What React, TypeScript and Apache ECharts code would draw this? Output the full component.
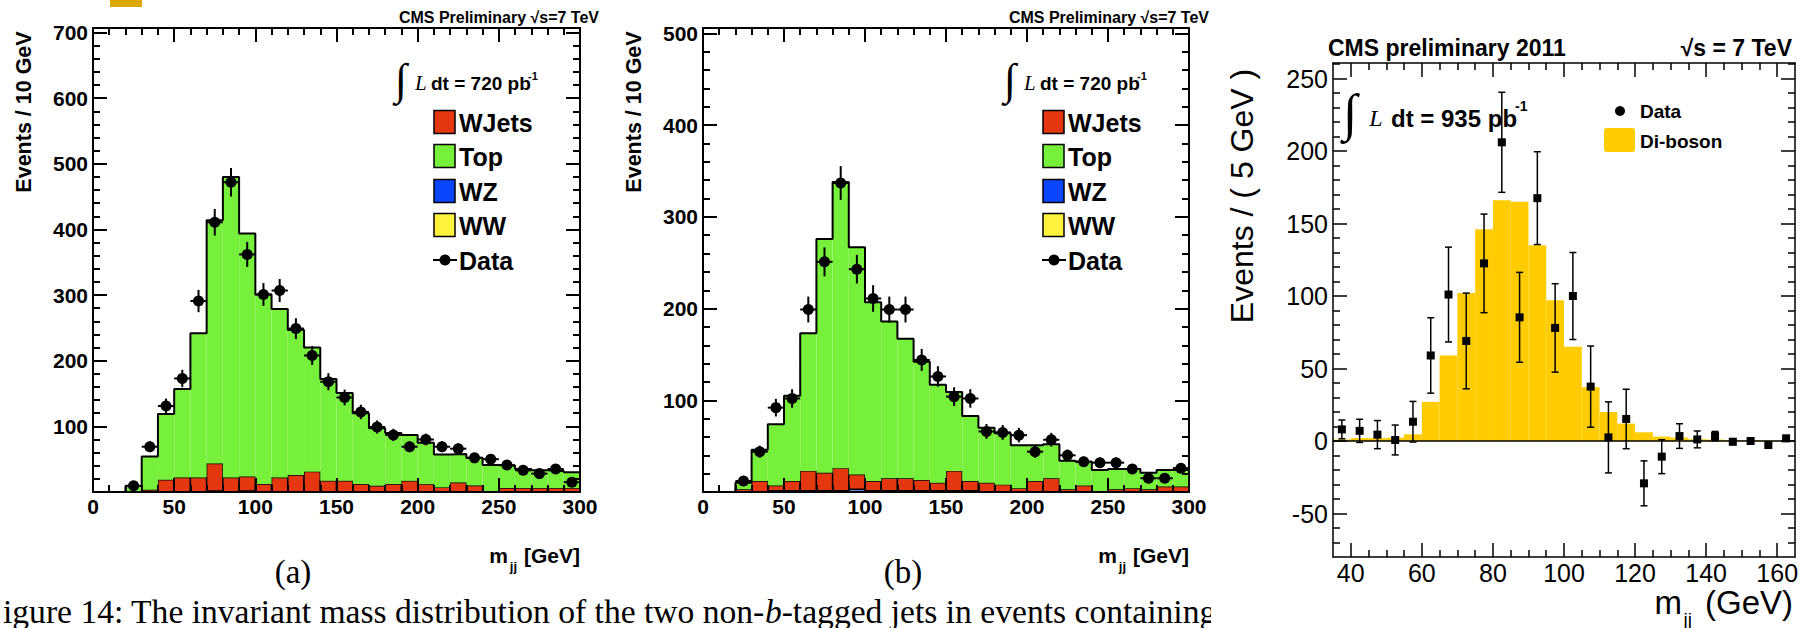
import React, { useEffect, useRef } from "react";
import * as echarts from "echarts";

// ---------------- Panels (a) and (b): 10 GeV bins ----------------
const binEdgesAB = [0, 10, 20, 30, 40, 50, 60, 70, 80, 90, 100, 110, 120, 130, 140, 150, 160, 170, 180, 190, 200, 210, 220, 230, 240, 250, 260, 270, 280, 290, 300];

const wwA = [0, 0, 0, 0, 0, 0, 0, 1.5, 0, 1.5, 0, 0, 0, 0, 0, 0, 0, 0, 0, 0, 0, 0, 0, 0, 0, 0, 0, 0, 0, 0];
const wzA = [0, 0, 0, 0, 0, 0, 0, 0, 0, 0, 0, 0, 0, 0, 0, 0, 0, 0, 0, 0, 0, 0, 0, 0, 0, 0, 0, 0, 0, 0];
const wjetsA = [0, 0, 1, 3.5, 18.5, 22, 22, 42, 22, 22, 12, 22, 26, 31, 17, 17, 12, 9.5, 12, 17, 12, 7, 14.5, 10, 0, 6, 6, 6, 6, 6];
const topA = [0, 0, 8, 50.5, 100.5, 135, 220, 370.5, 458, 370.5, 289, 257, 221, 189, 155, 134, 108, 87.5, 78, 70, 63, 50, 43.5, 42, 41, 34, 29, 27, 26, 24];

const dataCentersAB = [25, 35, 45, 55, 65, 75, 85, 95, 105, 115, 125, 135, 145, 155, 165, 175, 185, 195, 205, 215, 225, 235, 245, 255, 265, 275, 285, 295];
const dataA = [9.5, 69, 131, 173, 291, 411, 472, 362, 301, 307, 249, 208, 168, 144, 122, 99, 87, 69, 80, 69, 66, 52, 50, 41, 33, 28, 35, 15];
const errA = [3, 8.3, 11.4, 13.2, 17, 20.3, 21.7, 19, 17.3, 17.5, 15.8, 14.4, 13, 12, 11, 10, 9.3, 8.3, 8.9, 8.3, 8.1, 7.2, 7.1, 6.4, 5.7, 5.3, 5.9, 3.9];

const wwB = [0, 0, 0, 0, 1.5, 1.5, 1.5, 1.5, 1.5, 1.5, 1.5, 1.5, 1.5, 1.5, 1.5, 1.5, 1.5, 0, 0, 0, 0, 0, 0, 0, 0, 0, 0, 0, 0, 0];
const wzB = [0, 0, 0, 0, 0, 0, 0, 0, 0, 1.5, 0, 0, 0, 0, 0, 0, 0, 0, 0, 0, 0, 0, 0, 0, 0, 0, 0, 0, 0, 0];
const wjetsB = [0, 0, 3, 12, 5.5, 10.5, 21.5, 19.5, 24.5, 16, 10.5, 13.5, 13.5, 11.5, 8.5, 21.5, 10.5, 10, 8, 4, 12, 15, 3, 7, 0, 3, 4, 3, 6, 6];
const topB = [0, 0, 7, 34, 67, 93, 150, 255, 312, 248, 195, 171, 152, 129, 107, 86, 71, 60, 56, 47, 39, 37, 31, 26, 24, 22, 21, 18, 18, 18];

const dataB = [12, 44, 92, 102, 199, 251, 337, 243, 211, 199, 199, 144, 126, 104, 102, 66, 65, 62, 44, 57, 40, 33, 32, 32, 25, 15, 15, 26];
const errB = [3.5, 6.6, 9.6, 10.1, 14.1, 15.8, 18.4, 15.6, 14.5, 14.1, 14.1, 12, 11.2, 10.2, 10.1, 8.1, 8.1, 7.9, 6.6, 7.5, 6.3, 5.7, 5.7, 5.7, 5, 3.9, 3.9, 5.1];
const dataHalfWidthAB = 5;

// ---------------- Panel (c): 5 GeV bins ----------------
const binEdgesC = [35, 40, 45, 50, 55, 60, 65, 70, 75, 80, 85, 90, 95, 100, 105, 110, 115, 120, 125, 130, 135, 140, 145, 150, 155, 160, 165];
const dibosonC = [1, 2, 2, 2.3, 4.6, 27, 59, 102, 146, 166, 165, 135, 97, 65, 37, 20, 12, 6, 3, 2.3, 1.2, 1, 0.5, 0.5, 0.3, 0.3];
const dataCentersC = [37.5, 42.5, 47.5, 52.5, 57.5, 62.5, 67.5, 72.5, 77.5, 82.5, 87.5, 92.5, 97.5, 102.5, 107.5, 112.5, 117.5, 122.5, 127.5, 132.5, 137.5, 142.5, 147.5, 152.5, 157.5, 162.5];
const dataC = [8, 7, 4.4, 0.7, 13.3, 59, 101, 69, 122.5, 206, 85.3, 167.5, 78, 100, 37.5, 2.5, 15.2, -29.2, -10.8, 3.4, 1.1, 3.4, -0.5, 0, -2.8, 1.8];
const errC = [6.5, 8, 9.7, 10.3, 14, 26, 32.7, 33, 34, 34.5, 31, 32, 30.5, 30, 28, 24.5, 20.5, 15.5, 11.7, 8.5, 5.8, 3.2, 2, 1.5, 1.5, 2];

// ---------------- Tick labels ----------------
const xTicksAB = [0, 50, 100, 150, 200, 250, 300];
const yTicksA = [100, 200, 300, 400, 500, 600, 700];
const yTicksB = [100, 200, 300, 400, 500];
const xTicksC = [40, 60, 80, 100, 120, 140, 160];
const yTicksC = [-50, 0, 50, 100, 150, 200, 250];

const SANS = "'Liberation Sans', Arial, Helvetica, sans-serif";
const SERIF = "'Liberation Serif', 'Times New Roman', serif";

const C_WJETS = "#E5370F";
const C_TOP = "#76F03A";
const C_WZ = "#0A46FF";
const C_WW = "#FFF23C";
const C_DIBOSON = "#FFCC00";

function range(a: number, b: number, step: number) {
  const r: number[] = [];
  for (let v = a; v <= b + 1e-9; v += step) r.push(Math.round(v * 1000) / 1000);
  return r;
}

function axesFor(
  gridIndex: number,
  dim: "x" | "y",
  min: number,
  max: number,
  majors: number[],
  minorStep: number,
  labelValues: number[],
  labelStyle: any,
  frameW: number,
  tickW: number,
  majLen: number,
  minLen: number
) {
  const positions = dim === "x" ? ["bottom", "top"] : ["left", "right"];
  const minors = range(Math.ceil(min / minorStep) * minorStep, max, minorStep).filter(
    (v) => majors.indexOf(v) < 0 && v > min && v < max
  );
  const list: any[] = [];
  positions.forEach((p, pi) => {
    list.push({
      type: "value",
      gridIndex,
      position: p,
      min,
      max,
      z: 10,
      axisLine: { show: true, onZero: false, lineStyle: { color: "#000", width: frameW } },
      axisTick: { show: true, inside: true, length: majLen, customValues: majors, lineStyle: { color: "#000", width: tickW } },
      axisLabel: pi === 0 ? { show: true, customValues: labelValues, ...labelStyle } : { show: false },
      splitLine: { show: false },
      minorTick: { show: false },
      axisPointer: { show: false },
    });
    list.push({
      type: "value",
      gridIndex,
      position: p,
      min,
      max,
      z: 10,
      axisLine: { show: false, onZero: false },
      axisTick: { show: true, inside: true, length: minLen, customValues: minors, lineStyle: { color: "#000", width: tickW } },
      axisLabel: { show: false },
      splitLine: { show: false },
      axisPointer: { show: false },
    });
  });
  return list;
}

function stackSeries(edges: number[], comps: { name: string; values: number[]; color: string; stroke?: boolean }[], axisIndex: number) {
  const base = edges.slice(0, -1).map(() => 0);
  const series: any[] = [];
  comps.forEach((c) => {
    const data = c.values.map((v, i) => {
      const d = [edges[i], edges[i + 1], base[i], base[i] + v];
      base[i] += v;
      return d;
    });
    series.push({
      type: "custom",
      name: c.name,
      xAxisIndex: axisIndex,
      yAxisIndex: axisIndex,
      encode: { x: [0, 1], y: [2, 3] },
      data,
      z: 2,
      renderItem: (_p: any, api: any) => {
        if (api.value(3) === api.value(2)) return null;
        const a = api.coord([api.value(0), api.value(3)]);
        const b = api.coord([api.value(1), api.value(2)]);
        return {
          type: "rect",
          shape: { x: a[0], y: a[1], width: b[0] - a[0], height: b[1] - a[1] },
          style: { fill: c.color, stroke: c.stroke ? "#000" : null, lineWidth: c.stroke ? 1.4 : 0 },
        };
      },
    });
  });
  return { series, total: base };
}

function outlineSeries(edges: number[], total: number[], axisIndex: number) {
  const pts = total.map((t, i) => [edges[i], t]);
  pts.push([edges[edges.length - 1], total[total.length - 1]]);
  return {
    type: "line",
    step: "end",
    xAxisIndex: axisIndex,
    yAxisIndex: axisIndex,
    data: pts,
    symbol: "none",
    lineStyle: { color: "#000", width: 2 },
    z: 3,
  };
}

function dataSeriesAB(values: number[], errs: number[], axisIndex: number) {
  return {
    type: "custom",
    name: "Data",
    xAxisIndex: axisIndex,
    yAxisIndex: axisIndex,
    encode: { x: 0, y: 1 },
    data: dataCentersAB.map((x, i) => [x, values[i], errs[i]]),
    z: 5,
    renderItem: (_p: any, api: any) => {
      const x = api.value(0);
      const y = api.value(1);
      const e = api.value(2);
      const c = api.coord([x, y]);
      const t = api.coord([x, y + e]);
      const b = api.coord([x, y - e]);
      const l = api.coord([x - dataHalfWidthAB, y]);
      const r = api.coord([x + dataHalfWidthAB, y]);
      return {
        type: "group",
        children: [
          { type: "line", shape: { x1: t[0], y1: t[1], x2: b[0], y2: b[1] }, style: { stroke: "#000", lineWidth: 2 } },
          { type: "line", shape: { x1: l[0], y1: l[1], x2: r[0], y2: r[1] }, style: { stroke: "#000", lineWidth: 2 } },
          { type: "circle", shape: { cx: c[0], cy: c[1], r: 5.5 }, style: { fill: "#000" } },
        ],
      };
    },
  };
}

function dataSeriesC(axisIndex: number) {
  return {
    type: "custom",
    name: "Data",
    xAxisIndex: axisIndex,
    yAxisIndex: axisIndex,
    encode: { x: 0, y: 1 },
    data: dataCentersC.map((x, i) => [x, dataC[i], errC[i]]),
    z: 5,
    renderItem: (_p: any, api: any) => {
      const x = api.value(0);
      const y = api.value(1);
      const e = api.value(2);
      const c = api.coord([x, y]);
      const t = api.coord([x, y + e]);
      const b = api.coord([x, y - e]);
      return {
        type: "group",
        children: [
          { type: "line", shape: { x1: t[0], y1: t[1], x2: b[0], y2: b[1] }, style: { stroke: "#000", lineWidth: 1.5 } },
          { type: "line", shape: { x1: t[0] - 3.5, y1: t[1], x2: t[0] + 3.5, y2: t[1] }, style: { stroke: "#000", lineWidth: 1.5 } },
          { type: "line", shape: { x1: b[0] - 3.5, y1: b[1], x2: b[0] + 3.5, y2: b[1] }, style: { stroke: "#000", lineWidth: 1.5 } },
          { type: "rect", shape: { x: c[0] - 4, y: c[1] - 4, width: 8, height: 8 }, style: { fill: "#000" } },
        ],
      };
    },
  };
}

function txt(x: number, y: number, text: string, size: number, opts: any = {}) {
  return {
    type: "text",
    x,
    y,
    rotation: opts.rotation || 0,
    z: opts.z || 20,
    style: {
      text,
      fontSize: size,
      fontFamily: opts.family || SANS,
      fontWeight: opts.weight || "normal",
      fontStyle: opts.style || "normal",
      fill: opts.color || "#000",
      align: opts.align || "left",
      verticalAlign: opts.valign || "middle",
      rich: opts.rich,
    },
  };
}

function legendAB(dx: number) {
  const els: any[] = [];
  els.push(txt(401 + dx, 79, "∫", 44, { family: SERIF, align: "center" }));
  els.push(txt(415 + dx, 83, "L", 21, { family: SERIF, style: "italic" }));
  els.push(txt(431 + dx, 83, "dt = 720 pb", 19, { weight: "bold" }));
  els.push(txt(528 + dx, 76, "-1", 11, { weight: "bold" }));
  const rows = [
    { name: "WJets", color: C_WJETS, y: 122 },
    { name: "Top", color: C_TOP, y: 156 },
    { name: "WZ", color: C_WZ, y: 191 },
    { name: "WW", color: C_WW, y: 225 },
  ];
  rows.forEach((r) => {
    els.push({
      type: "rect",
      z: 20,
      shape: { x: 434 + dx, y: r.y - 11.5, width: 21, height: 23 },
      style: { fill: r.color, stroke: "#000", lineWidth: 1.5 },
    });
    els.push(txt(459 + dx, r.y + 1, r.name, 25, { weight: "bold" }));
  });
  els.push({ type: "line", z: 20, shape: { x1: 433 + dx, y1: 260, x2: 457 + dx, y2: 260 }, style: { stroke: "#000", lineWidth: 2 } });
  els.push({ type: "circle", z: 20, shape: { cx: 445 + dx, cy: 260, r: 5.5 }, style: { fill: "#000" } });
  els.push(txt(459 + dx, 261, "Data", 25, { weight: "bold" }));
  return els;
}

function buildOption() {
  const gridA = { left: 93, top: 28, width: 487, height: 464 };
  const gridB = { left: 703, top: 28, width: 486, height: 464 };
  const gridC = { left: 1333, top: 63, width: 462, height: 494 };

  const abX = { fontSize: 21, fontWeight: "bold", fontFamily: SANS, color: "#000", margin: 4 };
  const abY = { fontSize: 21, fontWeight: "bold", fontFamily: SANS, color: "#000", margin: 5 };
  const cX = { fontSize: 25, fontFamily: SANS, color: "#000", margin: 3 };
  const cY = { fontSize: 25, fontFamily: SANS, color: "#000", margin: 5 };

  const xAxis = [
    ...axesFor(0, "x", 0, 300, xTicksAB, 10, xTicksAB, abX, 2, 2, 14, 7),
    ...axesFor(1, "x", 0, 300, xTicksAB, 10, xTicksAB, abX, 2, 2, 14, 7),
    ...axesFor(2, "x", 35, 165, xTicksC, 5, xTicksC, cX, 1.5, 1.5, 14, 7),
  ];
  const yAxis = [
    ...axesFor(0, "y", 0, 707, yTicksA, 20, yTicksA, abY, 2, 2, 14, 7),
    ...axesFor(1, "y", 0, 506, yTicksB, 20, yTicksB, abY, 2, 2, 14, 7),
    ...axesFor(2, "y", -80, 260.7, yTicksC, 10, yTicksC, cY, 1.5, 1.5, 14, 7),
  ];

  const stA = stackSeries(
    binEdgesAB,
    [
      { name: "WW", values: wwA, color: C_WW },
      { name: "WZ", values: wzA, color: C_WZ },
      { name: "WJets", values: wjetsA, color: C_WJETS, stroke: true },
      { name: "Top", values: topA, color: C_TOP },
    ],
    0
  );
  const stB = stackSeries(
    binEdgesAB,
    [
      { name: "WW", values: wwB, color: C_WW },
      { name: "WZ", values: wzB, color: C_WZ },
      { name: "WJets", values: wjetsB, color: C_WJETS, stroke: true },
      { name: "Top", values: topB, color: C_TOP },
    ],
    4
  );
  const stC = stackSeries(binEdgesC, [{ name: "Di-boson", values: dibosonC, color: C_DIBOSON }], 8);

  const series: any[] = [
    ...stA.series,
    outlineSeries(binEdgesAB, stA.total, 0),
    dataSeriesAB(dataA, errA, 0),
    ...stB.series,
    outlineSeries(binEdgesAB, stB.total, 4),
    dataSeriesAB(dataB, errB, 4),
    ...stC.series,
    {
      type: "line",
      xAxisIndex: 8,
      yAxisIndex: 8,
      data: [
        [binEdgesC[0], 0],
        [binEdgesC[binEdgesC.length - 1], 0],
      ],
      symbol: "none",
      lineStyle: { color: "#000", width: 1.5 },
      z: 4,
    },
    dataSeriesC(8),
  ];

  const graphic: any[] = [
    { type: "rect", z: 20, shape: { x: 110, y: 0, width: 32, height: 7 }, style: { fill: "#DBA700" } },
    // panel (a)
    txt(599, 17, "CMS Preliminary √s=7 TeV", 16, { weight: "bold", align: "right" }),
    txt(24, 112, "Events / 10 GeV", 21.5, { weight: "bold", align: "center", rotation: Math.PI / 2 }),
    txt(580, 555, "[GeV]", 21, { weight: "bold", align: "right" }),
    txt(517, 566, "jj", 13, { weight: "bold", align: "right" }),
    txt(508, 555, "m", 21, { weight: "bold", align: "right" }),
    ...legendAB(0),
    txt(293, 572, "(a)", 33, { family: SERIF, align: "center" }),
    // panel (b)
    txt(1209, 17, "CMS Preliminary √s=7 TeV", 16, { weight: "bold", align: "right" }),
    txt(634, 112, "Events / 10 GeV", 21.5, { weight: "bold", align: "center", rotation: Math.PI / 2 }),
    txt(1189, 555, "[GeV]", 21, { weight: "bold", align: "right" }),
    txt(1126, 566, "jj", 13, { weight: "bold", align: "right" }),
    txt(1117, 555, "m", 21, { weight: "bold", align: "right" }),
    ...legendAB(609),
    txt(903, 572, "(b)", 33, { family: SERIF, align: "center" }),
    // caption
    txt(3, 611, "igure 14: The invariant mass distribution of the two non-{i|b}-tagged jets in events containing", 33.6, {
      family: SERIF,
      z: 15,
      rich: { i: { fontStyle: "italic", fontFamily: SERIF, fontSize: 33.6 } },
    }),
    { type: "rect", z: 16, shape: { x: 1211, y: 590, width: 436, height: 38 }, style: { fill: "#fff" } },
    // panel (c)
    txt(1328, 48, "CMS preliminary 2011", 23, { weight: "bold" }),
    txt(1792, 48, "√s = 7 TeV", 23, { weight: "bold", align: "right" }),
    txt(1242, 196, "Events / ( 5 GeV )", 32, { align: "center", rotation: Math.PI / 2 }),
    txt(1350, 112, "∫", 52, { family: SERIF, align: "center" }),
    txt(1376, 118, "L", 24, { family: SERIF, style: "italic", align: "center" }),
    txt(1391, 118, "dt = 935 pb", 24, { weight: "bold" }),
    txt(1515, 106, "-1", 14, { weight: "bold" }),
    { type: "circle", z: 20, shape: { cx: 1620, cy: 111, r: 5 }, style: { fill: "#000" } },
    txt(1640, 111, "Data", 19, { weight: "bold" }),
    { type: "rect", z: 20, shape: { x: 1604, y: 128, width: 31, height: 24, r: 3 }, style: { fill: C_DIBOSON } },
    txt(1640, 141, "Di-boson", 19, { weight: "bold" }),
    txt(1793, 602, "(GeV)", 33, { align: "right" }),
    txt(1692, 619, "jj", 19, { align: "right" }),
    txt(1682, 602, "m", 33, { align: "right" }),
  ];

  return {
    animation: false,
    backgroundColor: "#fff",
    grid: [
      { ...gridA, outerBoundsMode: "none", containLabel: false },
      { ...gridB, outerBoundsMode: "none", containLabel: false },
      { ...gridC, outerBoundsMode: "none", containLabel: false },
    ],
    xAxis,
    yAxis,
    series,
    graphic: { elements: graphic },
  };
}

export default function App() {
  const ref = useRef<HTMLDivElement>(null);
  useEffect(() => {
    const chart = echarts.init(ref.current as HTMLDivElement, null, { renderer: "svg" });
    chart.setOption(buildOption() as any);
    return () => chart.dispose();
  }, []);
  return (
    <div
      ref={ref}
      style={{ position: "fixed", left: 0, top: 0, width: 1812, height: 628, background: "#fff" }}
    />
  );
}
